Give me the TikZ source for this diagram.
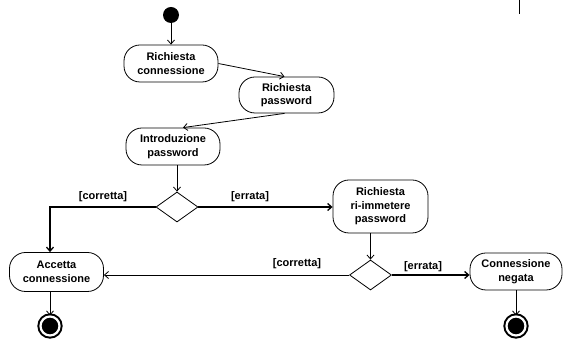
\documentclass[tikz,border=0pt]{standalone}
\usepackage{fontspec}
\setmainfont{Liberation Sans}
\usetikzlibrary{shapes.geometric,arrows.meta,calc}
\tikzset{
  act/.style={draw, line width=0.8pt, rounded corners=16pt, align=center, inner sep=1pt,
    font=\fontsize{11}{13.5}\selectfont\bfseries},
  dec/.style={draw, diamond, line width=0.8pt, minimum width=42pt, minimum height=30pt, inner sep=0pt},
  flow/.style={line width=0.8pt, -{Straight Barb[length=4pt,width=7pt]}},
  thick flow/.style={flow, line width=1.3pt},
  guard/.style={font=\fontsize{11}{13}\selectfont\bfseries, inner sep=0pt},
  initnode/.style={circle, fill=black, minimum size=16pt, inner sep=0pt},
  finalnode/.style={circle, draw, line width=2pt, fill=black, double=white, double distance=2.2pt, minimum size=19pt, inner sep=0pt}
}
\begin{document}
\begin{tikzpicture}[x=1pt,y=-1pt]
\useasboundingbox (0,0) rectangle (563,344);
\node[initnode] (init) at (171,15) {};
\node[act, minimum width=94pt, minimum height=37pt] (rc) at (171,63.5) {Richiesta\\connessione};
\node[act, minimum width=95pt, minimum height=36pt] (rp) at (286.5,95) {Richiesta\\password};
\node[act, minimum width=94pt, minimum height=37pt] (ip) at (173,146.5) {Introduzione\\password};
\node[dec] (d1) at (177,207) {};
\node[act, minimum width=95pt, minimum height=53pt] (rr) at (380.5,206.5) {Richiesta\\ri-immetere\\password};
\node[dec] (d2) at (370.5,275) {};
\node[act, minimum width=94pt, minimum height=39pt] (acc) at (56.5,272) {Accetta\\connessione};
\node[act, minimum width=92pt, minimum height=37pt] (cn) at (516,271.5) {Connessione\\negata};
\node[finalnode] (f1) at (50,326) {};
\node[finalnode] (f2) at (516,326) {};
\coordinate (ctop) at (50,207);
\node[guard] (g1) at (103,196.5) {[corretta]};
\node[guard] (g2) at (250,196.5) {[errata]};
\node[guard] (g3) at (297,264) {[corretta]};
\node[guard] (g4) at (423,266.5) {[errata]};

\draw[flow] (init) -- (rc);
\draw[flow] (rc.east) -- ([xshift=-2pt]rp.north);
\draw[flow] ([xshift=-2pt]rp.south) -- ([xshift=10pt]ip.north);
\draw[flow] (ip.south -| d1.north) -- (d1.north);
\draw[thick flow] (d1.west) -- (ctop) -- (ctop |- acc.north);
\draw[thick flow] (d1.east) -- (rr.west |- d1.east);
\draw[flow] (d2.north |- rr.south) -- (d2.north);
\draw[flow] (d2.west) -- (d2.west -| acc.east);
\draw[thick flow] (d2.east) -- (d2.east -| cn.west);
\draw[flow] (acc.south -| f1.north) -- (f1.north);
\draw[flow] (cn.south) -- (f2.north);
\draw[line width=1.8pt] (519.5,0) -- (519.5,14);
\end{tikzpicture}
\end{document}
